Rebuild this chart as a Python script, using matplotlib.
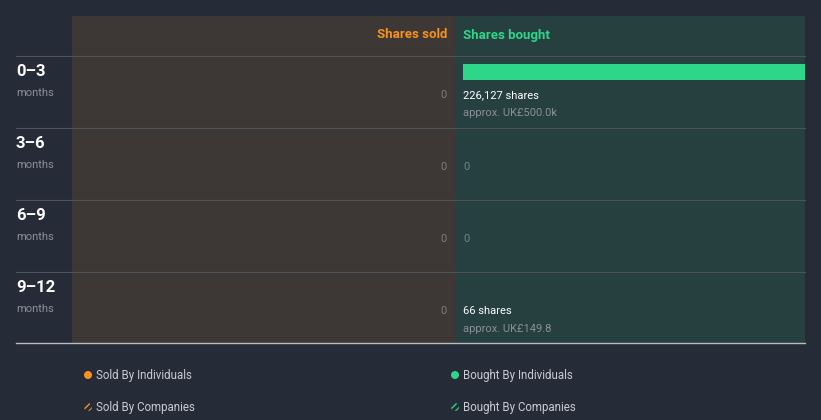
import matplotlib
matplotlib.use("Agg")
import matplotlib.pyplot as plt
from matplotlib.patches import Rectangle, Circle

# ---- data ----
periods = ["0\u20133", "3\u20136", "6\u20139", "9\u201312"]
period_unit = ["months", "months", "months", "months"]
shares_sold = [0, 0, 0, 0]
shares_bought = [226127, 0, 0, 66]
bought_value = ["approx. UK\u00a3500.0k", None, None, "approx. UK\u00a3149.8"]
legend_labels = ["Sold By Individuals", "Bought By Individuals",
                 "Sold By Companies", "Bought By Companies"]

BG = "#262b38"
SOLD_BG = "#3d3835"
BOUGHT_BG = "#25403f"
ORANGE = "#f7931a"
GREEN = "#2ed68a"
GRID = "#4e5259"
GRAY = "#8c9096"
WHITE = "#ffffff"
FONT = ["Roboto", "DejaVu Sans"]

W, H = 821, 420
fig = plt.figure(figsize=(W / 100, H / 100), dpi=100, facecolor=BG)
ax = fig.add_axes([0, 0, 1, 1])
ax.set_xlim(0, W)
ax.set_ylim(H, 0)
ax.axis("off")
ax.set_facecolor(BG)

x_left, x_mid, x_right = 72, 455, 805
y_top, y_head, row_h = 16, 56, 72
y_bottom = y_head + row_h * len(periods) - 1

ax.add_patch(Rectangle((x_left, y_top), x_mid - x_left, y_bottom - y_top, color=SOLD_BG, lw=0))
ax.add_patch(Rectangle((x_mid, y_top), x_right - x_mid, y_bottom - y_top, color=BOUGHT_BG, lw=0))

ax.text(x_mid - 8, 35, "Shares sold", color=ORANGE, fontsize=9.5, fontweight="bold",
        ha="right", va="center", family=FONT)
ax.text(x_mid + 8, 35, "Shares bought", color=GREEN, fontsize=9.5, fontweight="bold",
        ha="left", va="center", family=FONT)

for i, (p, u) in enumerate(zip(periods, period_unit)):
    y0 = y_head + i * row_h
    ax.plot([16, x_right], [y0, y0], color=GRID, lw=0.8)
    ax.text(16, y0 + 15, p, color=WHITE, fontsize=12, fontweight="bold", ha="left",
            va="center", family=FONT)
    ax.text(16, y0 + 37, u, color=GRAY, fontsize=8, ha="left", va="center", family=FONT)
    ax.text(x_mid - 8, y0 + 39, f"{shares_sold[i]:,}", color="#7d7a77", fontsize=8,
            ha="right", va="center", family=FONT)
    if shares_bought[i] > 0:
        ax.text(x_mid + 8, y0 + 39, f"{shares_bought[i]:,} shares", color=WHITE, fontsize=8,
                ha="left", va="center", family=FONT)
        ax.text(x_mid + 8, y0 + 57, bought_value[i], color=GRAY, fontsize=8,
                ha="left", va="center", family=FONT)
    else:
        ax.text(x_mid + 8, y0 + 39, "0", color="#6f8683", fontsize=8,
                ha="left", va="center", family=FONT)

ax.plot([16, x_right], [y_bottom, y_bottom], color="#b8bcc2", lw=1.0)

# bought bars through their own axes
bar_x0, bar_x1 = 463, 805
bax = fig.add_axes([bar_x0 / W, 1 - (y_head + row_h * len(periods)) / H,
                    (bar_x1 - bar_x0) / W, row_h * len(periods) / H])
bax.set_xlim(0, max(shares_bought))
bax.set_ylim(len(periods), 0)
bax.axis("off")
bax.patch.set_alpha(0)
ypos = [i + 8 / row_h for i in range(len(periods))]
bax.barh(ypos, shares_bought, height=16 / row_h, color=GREEN, align="edge", lw=0)

# legend
leg_pos = [(88, 375), (455, 375), (88, 407), (455, 407)]
leg_colors = [ORANGE, GREEN, ORANGE, GREEN]
for k, (lab, (lx, ly), c) in enumerate(zip(legend_labels, leg_pos, leg_colors)):
    if k < 2:
        ax.add_patch(Circle((lx, ly), 4, color=c, lw=0))
    else:
        ax.add_patch(Circle((lx, ly), 4, facecolor=BG, edgecolor=c, hatch="/////", lw=0))
    ax.text(lx + 8, ly + 1, lab, color="#c8ccd2", fontsize=8.3, ha="left", va="center", family=FONT)

fig.savefig("out.png", dpi=100, facecolor=BG)
